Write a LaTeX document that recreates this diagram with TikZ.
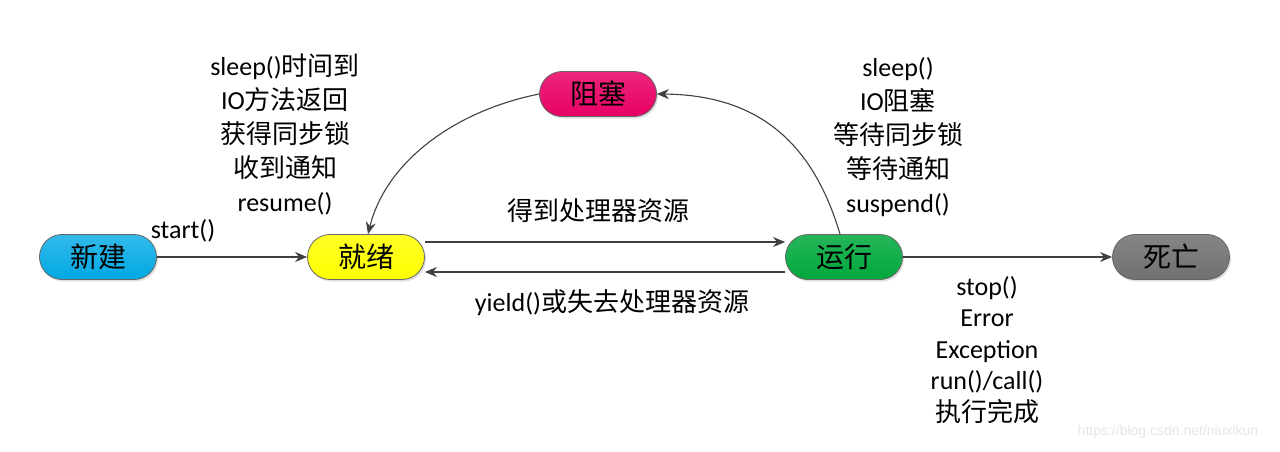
\documentclass[tikz,border=0pt]{standalone}
\usepackage{fontspec}
\setmainfont{Carlito}
\newfontfamily\cjk{Noto Sans CJK SC}
\newfontfamily\marksans{Liberation Sans}
\usetikzlibrary{arrows.meta}
\usetikzlibrary{shadows}
\definecolor{newblue}{RGB}{0,168,228}
\definecolor{readyyellow}{RGB}{255,255,0}
\definecolor{blockred}{RGB}{232,0,100}
\definecolor{rungreen}{RGB}{0,168,60}
\definecolor{deadgray}{RGB}{112,112,112}
\tikzstyle{state}=[rectangle, rounded corners=22.5pt, draw=black!60, line width=0.8pt, minimum width=117pt, minimum height=45pt, inner sep=0pt, font=\fontsize{28}{28}\selectfont\cjk, drop shadow={opacity=0.25, shadow xshift=1.5pt, shadow yshift=-2pt}]
\tikzstyle{note}=[align=center, inner sep=0pt, font=\fontsize{26}{34}\selectfont]
\tikzstyle{arrow}=[-{Stealth[length=12pt, width=10pt]}, draw=black!75, line width=1.1pt]

\begin{document}
\begin{tikzpicture}[x=1pt, y=-1pt]
    \useasboundingbox (0,0) rectangle (1280,452);

    \node [state, top color=newblue!80!white, bottom color=newblue] (new) at (98,257) {新建};
    \node [state, top color=readyyellow!85!white, bottom color=readyyellow] (ready) at (366,257) {就绪};
    \node [state, top color=blockred!85!white, bottom color=blockred] (blocked) at (598,94) {阻塞};
    \node [state, top color=rungreen!85!white, bottom color=rungreen] (running) at (844,257) {运行};
    \node [state, top color=deadgray!85!white, bottom color=deadgray] (dead) at (1171,257) {死亡};

    \node [note] (start) at (183,231) {start()};
    \node [note] (wake) at (285,134) {sleep(){\cjk 时间到}\\IO{\cjk 方法返回}\\{\cjk 获得同步锁}\\{\cjk 收到通知}\\resume()};
    \node [note] (wait) at (898,137) {sleep()\\IO{\cjk 阻塞}\\{\cjk 等待同步锁}\\{\cjk 等待通知}\\suspend()};
    \node [note] (get-cpu) at (598,211) {\cjk 得到处理器资源};
    \node [note] (lose-cpu) at (612,303) {yield(){\cjk 或失去处理器资源}};
    \node [note, font=\fontsize{26}{31.5}\selectfont] (finish) at (987,350) {stop()\\Error\\Exception\\run()/call()\\{\cjk 执行完成}};

    \node [font=\fontsize{14}{14}\selectfont\marksans, text=black!10] (mark) at (1168,432) {https://blog.csdn.net/niuxikun};

    \draw [arrow] (new) -- (ready);
    \draw [arrow] ([yshift=15pt]ready.east) -- ([yshift=15pt]running.west);
    \draw [arrow] ([yshift=-15pt]running.west) -- ([yshift=-15pt]ready.east);
    \draw [arrow] (running) -- (dead);
    \draw [arrow] (blocked.west) .. controls (450,112) and (385,165) .. ([xshift=2pt]ready.north);
    \draw [arrow] ([xshift=-4pt]running.north) .. controls (815,150) and (765,95) .. (blocked.east);
\end{tikzpicture}
\end{document}
